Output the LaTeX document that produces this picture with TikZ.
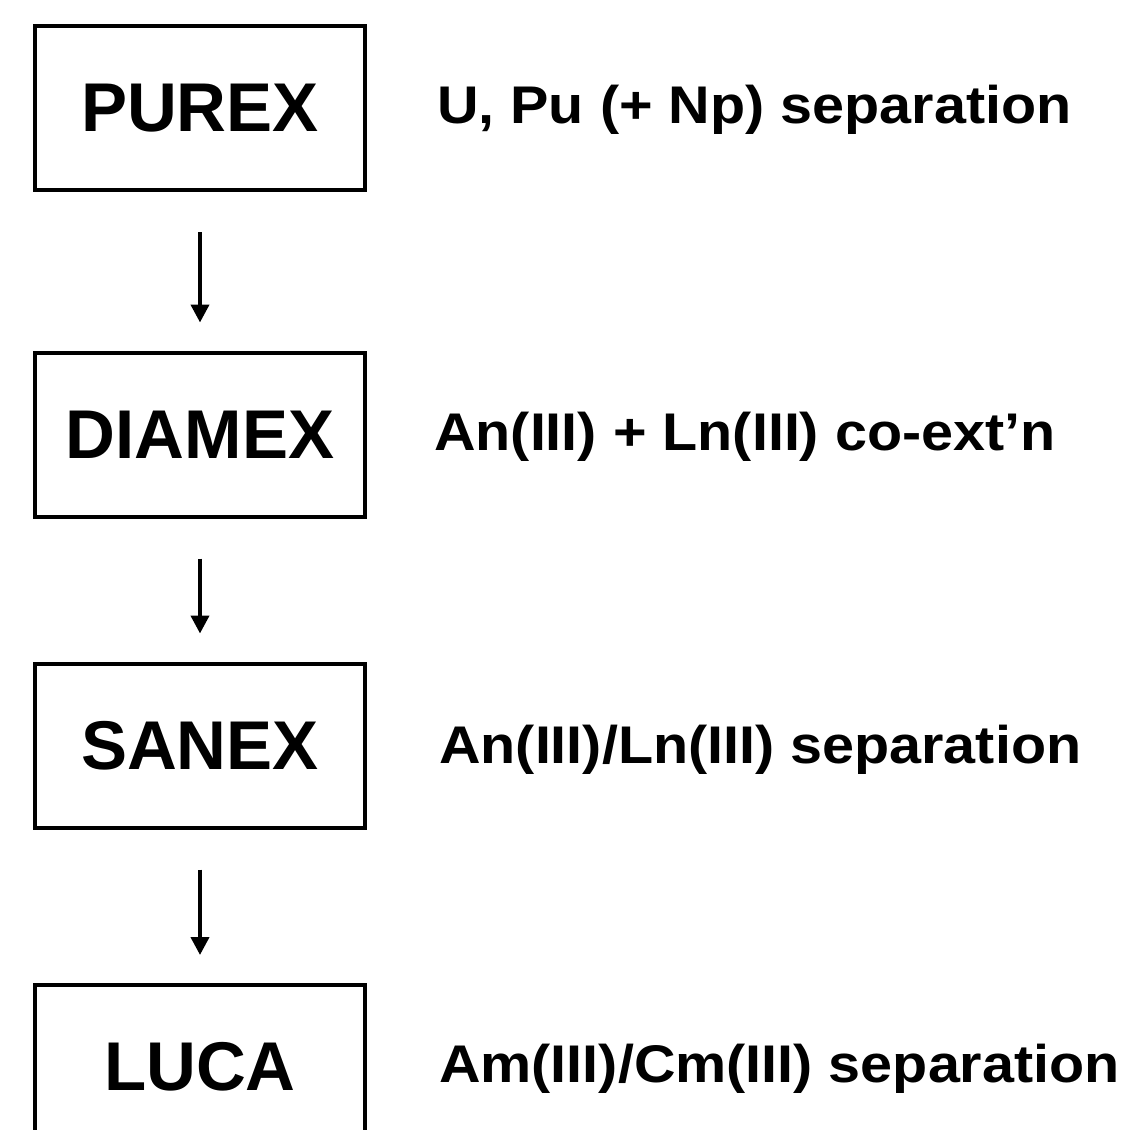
\documentclass[tikz,border=0pt]{standalone}
\usepackage{fontspec}
\setmainfont{Liberation Sans}
\newfontfamily\descfont[FakeStretch=1.085]{Liberation Sans}
\usetikzlibrary{arrows.meta}
\begin{document}
\begin{tikzpicture}[x=1pt,y=-1pt,
  procbox/.style={draw, line width=4pt, minimum width=330pt, minimum height=164pt, inner sep=0pt,
    font=\fontsize{69}{80}\selectfont\bfseries},
  desc/.style={anchor=base west, inner sep=0pt, font=\descfont\fontsize{53}{60}\selectfont\bfseries},
  flow/.style={line width=4pt, -{Triangle[length=18pt,width=18pt]}, shorten <=40pt, shorten >=28pt}]
\useasboundingbox (0,0) rectangle (1133,1130);
\node[procbox] (purex) at (200,108) {PUREX};
\node[procbox] (diamex) at (200,434.5) {DIAMEX};
\node[procbox] (sanex) at (200,745.5) {SANEX};
\node[procbox] (luca) at (200,1067) {LUCA};
\node[desc] (d1) at (437,123) {U, Pu (+ Np) separation};
\node[desc] (d2) at (434,450) {An(III) + Ln(III) co-ext’n};
\node[desc] (d3) at (439,763) {An(III)/Ln(III) separation};
\node[desc] (d4) at (439,1082) {Am(III)/Cm(III) separation};
\draw[flow] (purex.south) -- (diamex.north);
\draw[flow] (diamex.south) -- (sanex.north);
\draw[flow] (sanex.south) -- (luca.north);
\end{tikzpicture}
\end{document}
